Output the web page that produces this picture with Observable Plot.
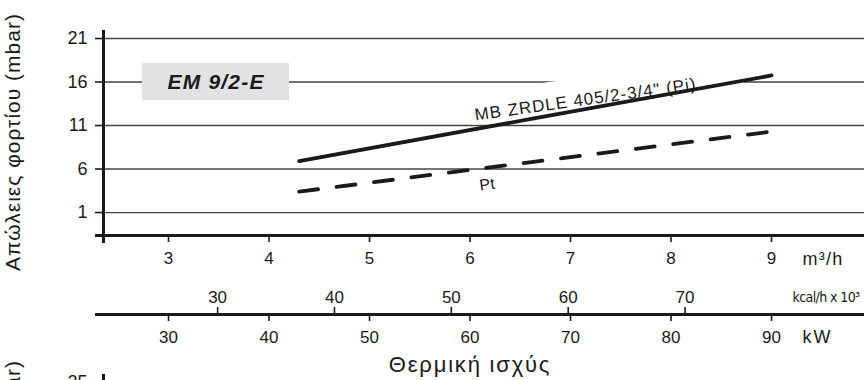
<!DOCTYPE html>
<html><head><meta charset="utf-8">
<script src="https://cdn.jsdelivr.net/npm/d3@7"></script>
<script src="https://cdn.jsdelivr.net/npm/@observablehq/plot@0.6"></script>
<style>
html,body{margin:0;padding:0;background:#fff;}
#wrap{position:relative;width:864px;height:380px;overflow:hidden;background:#fff;}
#wrap svg{position:absolute;left:0;top:0;}
</style></head><body><div id="wrap"></div>
<script>
// ---- data ----
const flowRate = [4.3, 6.65, 9.0];          // m³/h
const lossPi = [6.9, 11.85, 16.75];          // mbar, MB ZRDLE (Pi)
const lossPt = [3.4, 6.85, 10.3];            // mbar, Pt
const yTicks = [1, 6, 11, 16, 21];
const flowTicks = [3, 4, 5, 6, 7, 8, 9];
const kcalTicks = [30, 40, 50, 60, 70];
const kwTicks = [30, 40, 50, 60, 70, 80, 90];
const seriesNames = ['MB ZRDLE 405/2-3/4" (Pi)', "Pt"];
const modelName = "EM 9/2-E";
const yLabel = "Απώλειες φορτίου (mbar)";
const xLabel = "Θερμική ισχύς";
const units = ["m³/h", "kcal/h x 10³", "kW"];
const nextChartTicks = [25];

const KW_PER_M3H = 10, KCAL_PER_KW = 0.86;
const pi = flowRate.map((q, i) => ({q, loss: lossPi[i]}));
const pt = flowRate.map((q, i) => ({q, loss: lossPt[i]}));

const xDomain = [2.353, 9.925], yDomain = [-1.64, 21.92];
const ink = "#1a1a1a", gridColor = "#444";
const font = "'Liberation Sans', Arial, sans-serif";
const frameH = 380 - 30 - 145;
const labelOpts = {x: 6.055, y: 11.57, rotate: -8, textAnchor: "start", lineAnchor: "bottom", fontSize: 17};
const yLabelOpts = {text: d => d, frameAnchor: "left", textAnchor: "middle", rotate: -90, dx: -90, dy: 9, fontSize: 21};

const chart = Plot.plot({
  width: 864, height: 380,
  marginLeft: 103, marginRight: 0, marginTop: 30, marginBottom: 145,
  x: {domain: xDomain, axis: null},
  y: {domain: yDomain, axis: null},
  style: {fontFamily: font, fontSize: "16px", color: ink, background: "white", overflow: "visible"},
  marks: [
    Plot.gridY(yTicks, {stroke: gridColor, strokeOpacity: 1, strokeWidth: 1.3}),
    Plot.axisY(yTicks, {tickSize: 8, tickPadding: 8, strokeWidth: 1.6, fontSize: 18, label: null}),
    Plot.rect([modelName], {x1: 2.741, x2: 4.204, y1: 13.87, y2: 18.13, fill: "#e1e2e4"}),
    Plot.text([modelName], {x: 3.473, y: 16.0, text: d => d, fontWeight: "bold", fontStyle: "italic", fontSize: 21, fill: ink}),
    Plot.text([seriesNames[0]], {...labelOpts, text: d => d, fill: "white"}),
    Plot.line(pi, {x: "q", y: "loss", stroke: ink, strokeWidth: 3.8}),
    Plot.line(pt, {x: "q", y: "loss", stroke: ink, strokeWidth: 3.8, strokeDasharray: "19,18.7"}),
    Plot.text([seriesNames[0]], {...labelOpts, text: d => d, fill: ink}),
    Plot.text([seriesNames[1]], {x: 6.17, y: 4.22, text: d => d, rotate: -8, fontSize: 16, fill: ink}),
    Plot.ruleX([xDomain[0]], {stroke: ink, strokeWidth: 3, insetBottom: -8}),
    Plot.ruleY([yDomain[0]], {stroke: ink, strokeWidth: 3, insetLeft: -8}),
    Plot.axisX(flowTicks, {tickSize: 7, tickPadding: 9, strokeWidth: 1.6, fontSize: 17, label: null}),
    Plot.text([units[0]], {x: flowTicks[flowTicks.length - 1], text: d => d, frameAnchor: "bottom", dx: 31, dy: 29, textAnchor: "start", lineAnchor: "bottom", fontSize: 18}),
    // kcal axis
    Plot.tickX(kcalTicks, {x: d => d / KCAL_PER_KW / KW_PER_M3H, insetTop: frameH - 7, dy: 79, stroke: ink, strokeWidth: 1.6}),
    Plot.text(kcalTicks, {x: d => d / KCAL_PER_KW / KW_PER_M3H, text: d => d, frameAnchor: "bottom", dy: 67, lineAnchor: "bottom", fontSize: 17}),
    Plot.text([units[1]], {x: flowTicks[flowTicks.length - 1], text: d => d, frameAnchor: "bottom", dx: 21, dy: 66, textAnchor: "start", lineAnchor: "bottom", fontSize: 14, fontFamily: "'Liberation Sans Narrow', 'DejaVu Sans Condensed', sans-serif"}),
    // kW axis
    Plot.ruleY([yDomain[0]], {dy: 79, stroke: ink, strokeWidth: 3, insetLeft: -8}),
    Plot.tickX(kwTicks, {x: d => d / KW_PER_M3H, insetTop: frameH, insetBottom: -7, dy: 79, stroke: ink, strokeWidth: 1.6}),
    Plot.text(kwTicks, {x: d => d / KW_PER_M3H, text: d => d, frameAnchor: "bottom", dy: 95, lineAnchor: "top", fontSize: 17}),
    Plot.text([units[2]], {x: flowTicks[flowTicks.length - 1], text: d => d, frameAnchor: "bottom", dx: 31, dy: 95, textAnchor: "start", lineAnchor: "top", fontSize: 18}),
    // titles
    Plot.text([xLabel], {x: 6.0, text: d => d, frameAnchor: "bottom", dy: 136, lineAnchor: "bottom", fontSize: 22}),
    Plot.text([yLabel], yLabelOpts)
  ]
});
const wrap = document.getElementById("wrap");
wrap.append(chart);

// fragment of the next chart (cut off at the bottom)
const next = Plot.plot({
  width: 864, height: 300,
  marginLeft: 103, marginRight: 0, marginTop: 29, marginBottom: 60,
  x: {domain: xDomain, axis: null},
  y: {domain: [0, 25.92], axis: null},
  style: {fontFamily: font, fontSize: "16px", color: ink, background: "transparent", overflow: "visible"},
  marks: [
    Plot.axisY(nextChartTicks, {tickSize: 8, tickPadding: 8, strokeWidth: 1.6, fontSize: 18, label: null}),
    Plot.ruleX([xDomain[0]], {stroke: ink, strokeWidth: 3}),
    Plot.text([yLabel], yLabelOpts)
  ]
});
next.style.top = "345px";
wrap.append(next);

// letter spacing to match the reference's wider typesetting
const spacing = new Map([
  [xLabel, 1.8], [yLabel, 1.0], [modelName, 1.2], [seriesNames[0], 1.0],
  [units[0], 1.2], [units[1], -0.6], [units[2], 2.0]
]);
for (const svg of [chart, next]) {
  for (const t of svg.querySelectorAll("text")) {
    const s = spacing.get(t.textContent);
    if (s) t.setAttribute("letter-spacing", s);
  }
}

// white box behind the Pi label (masks the grid line like the reference)
const masks = [...chart.querySelectorAll("text")].filter(t => t.textContent === seriesNames[0]);
if (masks.length) {
  const m = masks[0], b = m.getBBox();
  const r = document.createElementNS("http://www.w3.org/2000/svg", "rect");
  r.setAttribute("x", b.x - 3); r.setAttribute("y", b.y - 13);
  r.setAttribute("width", b.width + 50); r.setAttribute("height", b.height + 13);
  if (m.getAttribute("transform")) r.setAttribute("transform", m.getAttribute("transform"));
  r.setAttribute("fill", "white");
  m.parentNode.insertBefore(r, m);
}
</script></body></html>
